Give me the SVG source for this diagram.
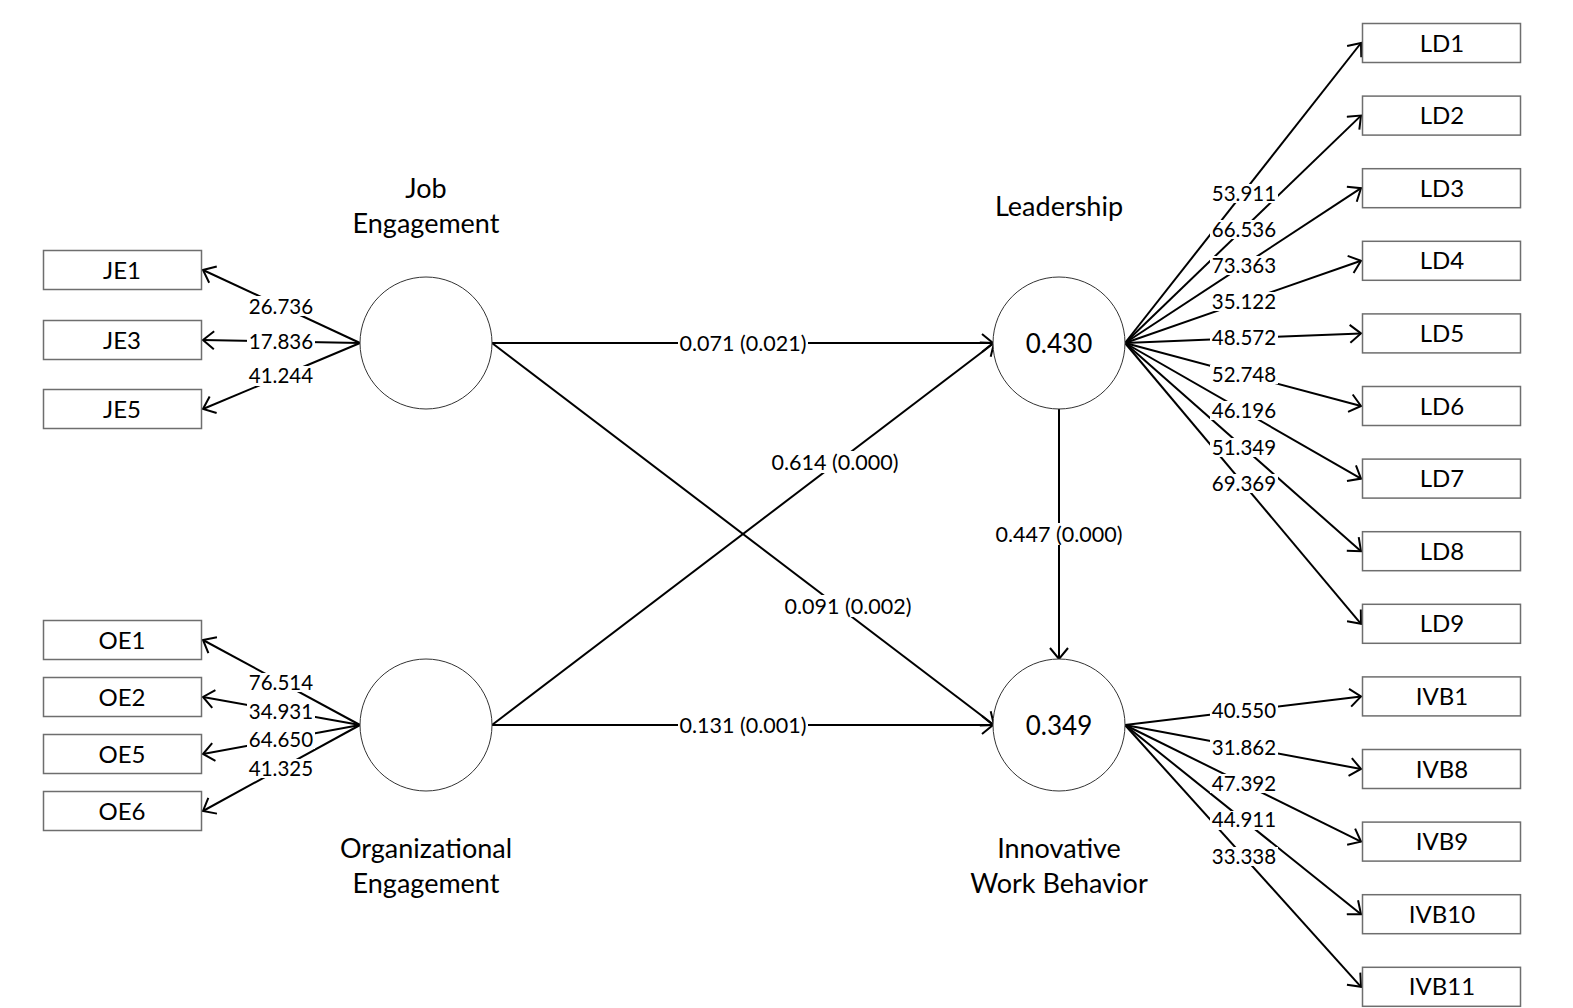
<svg xmlns="http://www.w3.org/2000/svg" width="1573" height="1008" viewBox="0 0 1573 1008">
<defs>
<style>
.bg{fill:#ffffff}
.box{fill:#ffffff;stroke:#6e6e6e;stroke-width:1.5}
.lv{fill:#ffffff;stroke:#333333;stroke-width:1}
.c{stroke:#000000;stroke-width:2;fill:none;marker-end:url(#arr)}
.lb{fill:#ffffff}
text{font-family:Lato,"Open Sans","Liberation Sans",sans-serif;fill:#000000;text-anchor:middle}
.t20{font-size:20.5px}
.tp{font-size:21.5px}
.t23{font-size:24px}
.t24{font-size:27px}
.t26{font-size:26px}
</style>
<marker id="arr" viewBox="0 0 14 20" refX="12" refY="10" markerWidth="14" markerHeight="20" markerUnits="userSpaceOnUse" orient="auto">
<path d="M1,1 L12,10 L1,19" fill="none" stroke="#000000" stroke-width="2"/>
</marker>
</defs>
<rect class="bg" x="0" y="0" width="1573" height="1008"/>

<g id="connectors">
<line class="c" x1="360" y1="343" x2="203" y2="270"/>
<line class="c" x1="360" y1="343" x2="203" y2="340"/>
<line class="c" x1="360" y1="343" x2="203" y2="409"/>
<line class="c" x1="360" y1="725" x2="203" y2="640"/>
<line class="c" x1="360" y1="725" x2="203" y2="697"/>
<line class="c" x1="360" y1="725" x2="203" y2="754"/>
<line class="c" x1="360" y1="725" x2="203" y2="811"/>
<line class="c" x1="1125" y1="343" x2="1361" y2="43"/>
<line class="c" x1="1125" y1="343" x2="1361" y2="115.6"/>
<line class="c" x1="1125" y1="343" x2="1361" y2="188.2"/>
<line class="c" x1="1125" y1="343" x2="1361" y2="260.8"/>
<line class="c" x1="1125" y1="343" x2="1361" y2="333.4"/>
<line class="c" x1="1125" y1="343" x2="1361" y2="406"/>
<line class="c" x1="1125" y1="343" x2="1361" y2="478.6"/>
<line class="c" x1="1125" y1="343" x2="1361" y2="551.2"/>
<line class="c" x1="1125" y1="343" x2="1361" y2="623.8"/>
<line class="c" x1="1125" y1="725" x2="1361" y2="696.4"/>
<line class="c" x1="1125" y1="725" x2="1361" y2="769"/>
<line class="c" x1="1125" y1="725" x2="1361" y2="841.6"/>
<line class="c" x1="1125" y1="725" x2="1361" y2="914.2"/>
<line class="c" x1="1125" y1="725" x2="1361" y2="986.8"/>
<line class="c" x1="492" y1="343" x2="993" y2="343"/>
<line class="c" x1="492" y1="343" x2="994" y2="725"/>
<line class="c" x1="492" y1="725" x2="994" y2="343"/>
<line class="c" x1="492" y1="725" x2="993" y2="725"/>
<line class="c" x1="1059" y1="409" x2="1059" y2="659"/>

<rect class="lb" x="247" y="296" width="68" height="20"/><text class="t20" x="281" y="313.5">26.736</text>
<rect class="lb" x="247" y="331" width="68" height="20"/><text class="t20" x="281" y="348.5">17.836</text>
<rect class="lb" x="247" y="366" width="68" height="20"/><text class="t20" x="281" y="383">41.244</text>

<rect class="lb" x="247" y="673" width="68" height="19"/><text class="t20" x="281" y="690">76.514</text>
<rect class="lb" x="247" y="702" width="68" height="18"/><text class="t20" x="281" y="718.5">34.931</text>
<rect class="lb" x="247" y="731" width="68" height="18"/><text class="t20" x="281" y="747">64.650</text>
<rect class="lb" x="247" y="759" width="68" height="19"/><text class="t20" x="281" y="775.5">41.325</text>

<rect class="lb" x="1210" y="184" width="68" height="19"/><text class="t20" x="1244" y="200.5">53.911</text>
<rect class="lb" x="1210" y="220" width="68" height="19"/><text class="t20" x="1244" y="236.5">66.536</text>
<rect class="lb" x="1210" y="256" width="68" height="19"/><text class="t20" x="1244" y="272.5">73.363</text>
<rect class="lb" x="1210" y="292" width="68" height="19"/><text class="t20" x="1244" y="308.5">35.122</text>
<rect class="lb" x="1210" y="328" width="68" height="19"/><text class="t20" x="1244" y="345">48.572</text>
<rect class="lb" x="1210" y="365" width="68" height="19"/><text class="t20" x="1244" y="381.5">52.748</text>
<rect class="lb" x="1210" y="401" width="68" height="19"/><text class="t20" x="1244" y="417.5">46.196</text>
<rect class="lb" x="1210" y="438" width="68" height="19"/><text class="t20" x="1244" y="454.5">51.349</text>
<rect class="lb" x="1210" y="474" width="68" height="19"/><text class="t20" x="1244" y="490.5">69.369</text>

<rect class="lb" x="1210" y="701" width="68" height="19"/><text class="t20" x="1244" y="717.5">40.550</text>
<rect class="lb" x="1210" y="738" width="68" height="19"/><text class="t20" x="1244" y="754.5">31.862</text>
<rect class="lb" x="1210" y="774" width="68" height="19"/><text class="t20" x="1244" y="790.5">47.392</text>
<rect class="lb" x="1210" y="811" width="68" height="19"/><text class="t20" x="1244" y="827">44.911</text>
<rect class="lb" x="1210" y="847" width="68" height="19"/><text class="t20" x="1244" y="863.5">33.338</text>

<rect class="lb" x="678" y="332" width="130" height="22"/><text class="tp" x="743" y="350.5">0.071 (0.021)</text>
<rect class="lb" x="678" y="714" width="130" height="22"/><text class="tp" x="743" y="732.5">0.131 (0.001)</text>
<rect class="lb" x="770" y="451" width="130" height="22"/><text class="tp" x="835" y="470">0.614 (0.000)</text>
<rect class="lb" x="783" y="595" width="130" height="22"/><text class="tp" x="848" y="614">0.091 (0.002)</text>
<rect class="lb" x="994" y="523" width="130" height="22"/><text class="tp" x="1059" y="542">0.447 (0.000)</text>
</g>

<g id="JE">
<circle class="lv" cx="426" cy="343" r="66"/>
<text class="t24" x="426" y="197.5">Job</text>
<text class="t24" x="426" y="232.5">Engagement</text>
</g>
<g id="OE">
<circle class="lv" cx="426" cy="725" r="66"/>
<text class="t24" x="426" y="857.5">Organizational</text>
<text class="t24" x="426" y="892.5">Engagement</text>
</g>
<g id="LD">
<circle class="lv" cx="1059" cy="343" r="66"/>
<text class="t26" x="1059" y="352.5">0.430</text>
<text class="t24" x="1059" y="215.5">Leadership</text>
</g>
<g id="IVB">
<circle class="lv" cx="1059" cy="725" r="66"/>
<text class="t26" x="1059" y="734.5">0.349</text>
<text class="t24" x="1059" y="857.5">Innovative</text>
<text class="t24" x="1059" y="892.5">Work Behavior</text>
</g>

<g id="JE1"><rect class="box" x="43.5" y="250.5" width="158" height="39"/><text class="t23" x="122" y="278.5">JE1</text></g>
<g id="JE3"><rect class="box" x="43.5" y="320.5" width="158" height="39"/><text class="t23" x="122" y="348.5">JE3</text></g>
<g id="JE5"><rect class="box" x="43.5" y="389.5" width="158" height="39"/><text class="t23" x="122" y="417.5">JE5</text></g>

<g id="OE1"><rect class="box" x="43.5" y="620.5" width="158" height="39"/><text class="t23" x="122" y="648.5">OE1</text></g>
<g id="OE2"><rect class="box" x="43.5" y="677.5" width="158" height="39"/><text class="t23" x="122" y="705.5">OE2</text></g>
<g id="OE5"><rect class="box" x="43.5" y="734.5" width="158" height="39"/><text class="t23" x="122" y="762.5">OE5</text></g>
<g id="OE6"><rect class="box" x="43.5" y="791.5" width="158" height="39"/><text class="t23" x="122" y="819.5">OE6</text></g>

<g id="LD1"><rect class="box" x="1362.5" y="23.5" width="158" height="39"/><text class="t23" x="1442" y="51.5">LD1</text></g>
<g id="LD2"><rect class="box" x="1362.5" y="96.1" width="158" height="39"/><text class="t23" x="1442" y="124.1">LD2</text></g>
<g id="LD3"><rect class="box" x="1362.5" y="168.7" width="158" height="39"/><text class="t23" x="1442" y="196.7">LD3</text></g>
<g id="LD4"><rect class="box" x="1362.5" y="241.3" width="158" height="39"/><text class="t23" x="1442" y="269.3">LD4</text></g>
<g id="LD5"><rect class="box" x="1362.5" y="313.9" width="158" height="39"/><text class="t23" x="1442" y="341.9">LD5</text></g>
<g id="LD6"><rect class="box" x="1362.5" y="386.5" width="158" height="39"/><text class="t23" x="1442" y="414.5">LD6</text></g>
<g id="LD7"><rect class="box" x="1362.5" y="459.1" width="158" height="39"/><text class="t23" x="1442" y="487.1">LD7</text></g>
<g id="LD8"><rect class="box" x="1362.5" y="531.7" width="158" height="39"/><text class="t23" x="1442" y="559.7">LD8</text></g>
<g id="LD9"><rect class="box" x="1362.5" y="604.3" width="158" height="39"/><text class="t23" x="1442" y="632.3">LD9</text></g>

<g id="IVB1"><rect class="box" x="1362.5" y="676.9" width="158" height="39"/><text class="t23" x="1442" y="704.9">IVB1</text></g>
<g id="IVB8"><rect class="box" x="1362.5" y="749.5" width="158" height="39"/><text class="t23" x="1442" y="777.5">IVB8</text></g>
<g id="IVB9"><rect class="box" x="1362.5" y="822.1" width="158" height="39"/><text class="t23" x="1442" y="850.1">IVB9</text></g>
<g id="IVB10"><rect class="box" x="1362.5" y="894.7" width="158" height="39"/><text class="t23" x="1442" y="922.7">IVB10</text></g>
<g id="IVB11"><rect class="box" x="1362.5" y="967.3" width="158" height="39"/><text class="t23" x="1442" y="995.3">IVB11</text></g>
</svg>
